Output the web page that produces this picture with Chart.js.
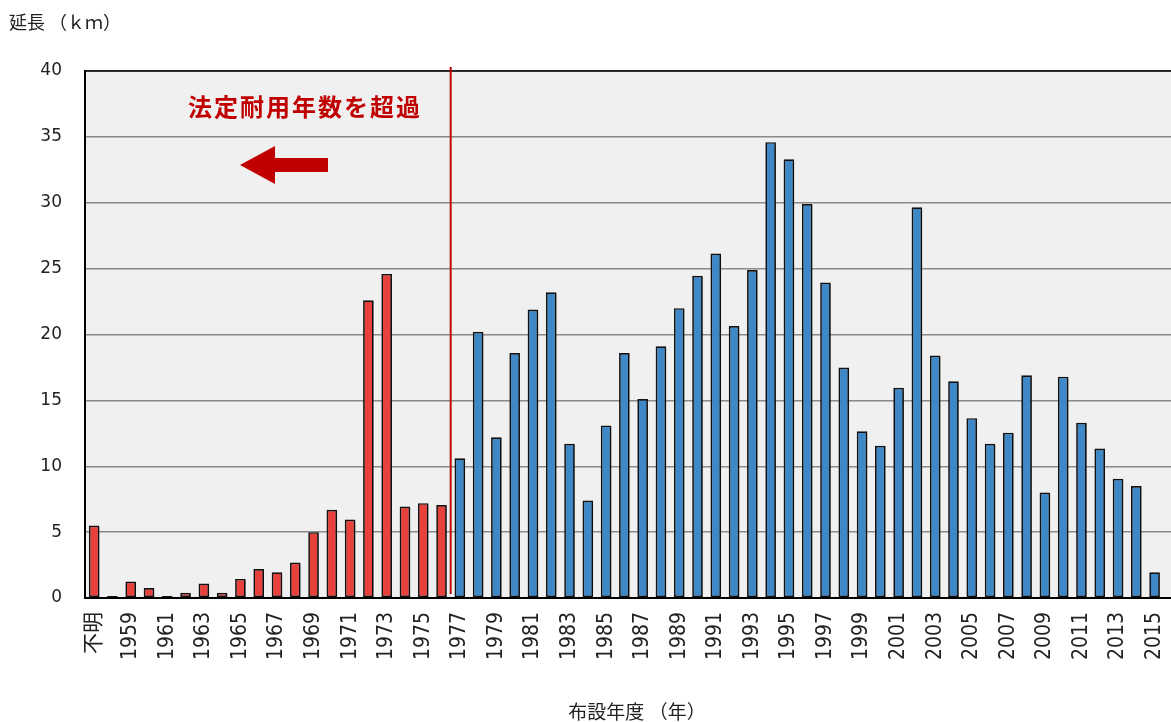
<!DOCTYPE html>
<html>
<head>
<meta charset="utf-8">
<script src="https://cdn.jsdelivr.net/npm/chart.js@4"></script>
<style>
  body { margin: 0; background: #fff; overflow: hidden; }
  #wrap { width: 1171px; height: 722px; overflow: hidden; position: relative; }
</style>
</head>
<body>
<div id="wrap"><canvas id="pipeChart" width="1182" height="722"></canvas></div>
<script>
// 布設年度 (last empty slot is the cropped edge of the original)
const categories = ['不明', '1958', '1959', '1960', '1961', '1962', '1963', '1964', '1965', '1966',
  '1967', '1968', '1969', '1970', '1971', '1972', '1973', '1974', '1975', '1976',
  '1977', '1978', '1979', '1980', '1981', '1982', '1983', '1984', '1985', '1986',
  '1987', '1988', '1989', '1990', '1991', '1992', '1993', '1994', '1995', '1996',
  '1997', '1998', '1999', '2000', '2001', '2002', '2003', '2004', '2005', '2006',
  '2007', '2008', '2009', '2010', '2011', '2012', '2013', '2014', '2015', ''];

// 法定耐用年数を超過 (不明〜1976)
const exceeded = [5.5, 0.15, 1.25, 0.75, 0.15, 0.4, 1.1, 0.4, 1.45, 2.2,
  1.95, 2.7, 5.0, 6.7, 5.95, 22.6, 24.6, 6.95, 7.2, 7.05];

// 1977〜2015
const withinLife = [10.6, 20.2, 12.2, 18.6, 21.9, 23.2, 11.7, 7.4, 13.1, 18.6,
  15.1, 19.1, 22.0, 24.45, 26.15, 20.65, 24.9, 34.6, 33.3, 29.9,
  23.95, 17.5, 12.65, 11.55, 15.95, 29.65, 18.4, 16.45, 13.65, 11.7,
  12.55, 16.9, 8.0, 16.8, 13.3, 11.35, 9.05, 8.5, 1.95];

const yTicks = [0, 5, 10, 15, 20, 25, 30, 35, 40];

const RED = '#E8403A';
const BLUE = '#3E88C8';
const DARK_RED = '#C00000';
const JP = '"Noto Sans CJK JP", sans-serif';

const values = [...exceeded, ...withinLife, null];

// plot background, shadows, annotations
const decor = {
  id: 'decor',
  beforeDraw(chart) {
    const { ctx, chartArea: a } = chart;
    ctx.save();
    ctx.fillStyle = '#F0F0F0';
    ctx.fillRect(a.left, a.top, a.right - a.left, a.bottom - a.top);
    ctx.restore();
  },
  beforeDatasetsDraw(chart) {
    const ctx = chart.ctx;
    ctx.save();
    ctx.shadowColor = 'rgba(0,0,0,0.3)';
    ctx.shadowOffsetX = 1.5;
    ctx.shadowOffsetY = 1.5;
    ctx.shadowBlur = 1;
  },
  afterDatasetsDraw(chart) {
    chart.ctx.restore();
  },
  afterDraw(chart) {
    const { ctx, chartArea: a } = chart;
    const xs = chart.scales.x;
    ctx.save();
    // top frame
    ctx.strokeStyle = '#000';
    ctx.lineWidth = 1.5;
    ctx.beginPath();
    ctx.moveTo(a.left, a.top);
    ctx.lineTo(a.right, a.top);
    ctx.stroke();

    // boundary line between 1976 and 1977
    const bx = (xs.getPixelForValue(exceeded.length - 1) + xs.getPixelForValue(exceeded.length)) / 2;
    ctx.strokeStyle = DARK_RED;
    ctx.lineWidth = 2;
    ctx.beginPath();
    ctx.moveTo(bx, a.top - 4);
    ctx.lineTo(bx, a.bottom - 4);
    ctx.stroke();

    // label
    ctx.fillStyle = DARK_RED;
    ctx.font = 'bold 24px ' + JP;
    ctx.textAlign = 'center';
    ctx.textBaseline = 'middle';
    if ('letterSpacing' in ctx) ctx.letterSpacing = '2px';
    ctx.fillText('法定耐用年数を超過', 305, 107);
    if ('letterSpacing' in ctx) ctx.letterSpacing = '0px';

    // arrow
    ctx.beginPath();
    ctx.moveTo(240, 165);
    ctx.lineTo(275, 146);
    ctx.lineTo(275, 158);
    ctx.lineTo(328, 158);
    ctx.lineTo(328, 172);
    ctx.lineTo(275, 172);
    ctx.lineTo(275, 184);
    ctx.closePath();
    ctx.fill();

    // axis titles
    ctx.fillStyle = '#222';
    ctx.font = '18px ' + JP;
    ctx.textAlign = 'left';
    ctx.fillText('延長 （ｋｍ）', 9, 22);
    ctx.textAlign = 'center';
    ctx.font = '19px ' + JP;
    ctx.fillText('布設年度 （年）', 637, 712);
    ctx.restore();
  }
};

new Chart(document.getElementById('pipeChart'), {
  type: 'bar',
  data: {
    labels: categories,
    datasets: [{
      data: values,
      backgroundColor: values.map((v, i) => i < exceeded.length ? RED : BLUE),
      borderColor: '#111',
      borderWidth: 1.7,
      borderSkipped: false,
      barPercentage: 0.58,
      categoryPercentage: 1.0
    }]
  },
  options: {
    responsive: false,
    animation: false,
    devicePixelRatio: 1,
    layout: { padding: { top: 71, right: 0, bottom: 0, left: 0 } },
    plugins: {
      legend: { display: false },
      tooltip: { enabled: false }
    },
    scales: {
      x: {
        grid: { display: false, drawTicks: false },
        border: { color: '#000', width: 2 },
        ticks: {
          autoSkip: false,
          minRotation: 90,
          maxRotation: 90,
          padding: 14,
          color: '#222',
          font: { family: '"DejaVu Sans Condensed", "DejaVu Sans", ' + JP, size: 21 },
          callback: function (val, idx) { return idx % 2 === 0 ? this.getLabelForValue(val) : ''; }
        },
        afterFit(scale) {
          scale.height = 124;
          scale.paddingLeft = 0;
          scale.paddingRight = 0;
        }
      },
      y: {
        min: 0,
        max: 40,
        afterBuildTicks(scale) { scale.ticks = yTicks.map(v => ({ value: v })); },
        grid: { color: '#8a8a8a', lineWidth: 1.5, drawTicks: false },
        border: { color: '#000', width: 2 },
        ticks: {
          padding: 23,
          color: '#222',
          font: { family: '"DejaVu Sans", sans-serif', size: 17 }
        },
        afterFit(scale) { scale.width = 85; }
      }
    }
  },
  plugins: [decor]
});
</script>
</body>
</html>
